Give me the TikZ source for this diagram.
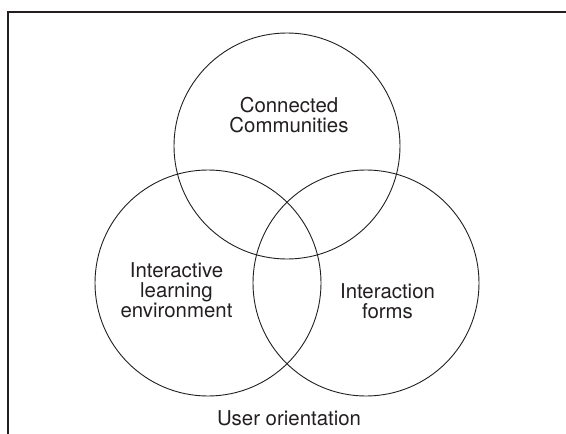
\documentclass[tikz,border=0pt]{standalone}
\usepackage{fontspec}
\setmainfont{TeX Gyre Heros}
\definecolor{ink}{HTML}{231F20}
\begin{document}
\begin{tikzpicture}[x=1pt,y=-1pt,
  ring/.style={draw=ink,line width=0.9pt},
  frame/.style={draw=ink,line width=2pt},
  lbl/.style={text=ink,inner sep=0pt,align=center,font=\fontsize{20.4}{20}\selectfont}]
\useasboundingbox (0,0) rectangle (566,434);
\coordinate (ftl) at (8,12);
\coordinate (ftr) at (570,12);
\coordinate (fbl) at (8,440);
\draw[frame] (fbl) -- (ftl) -- (ftr);
\node[ring,circle,minimum size=226pt,inner sep=0pt] (top) at (287,146) {};
\node[ring,circle,minimum size=226pt,inner sep=0pt] (left) at (208,283) {};
\node[ring,circle,minimum size=226pt,inner sep=0pt] (right) at (366,283) {};
\node[lbl] (tcap) at (289,115) {Connected\\Communities};
\node[lbl] (lcap) at (176.5,290) {Interactive\\learning\\environment};
\node[lbl] (rcap) at (387.5,301.5) {Interaction\\forms};
\node[lbl,anchor=base] (ucap) at (289,425) {User orientation};
\end{tikzpicture}
\end{document}
